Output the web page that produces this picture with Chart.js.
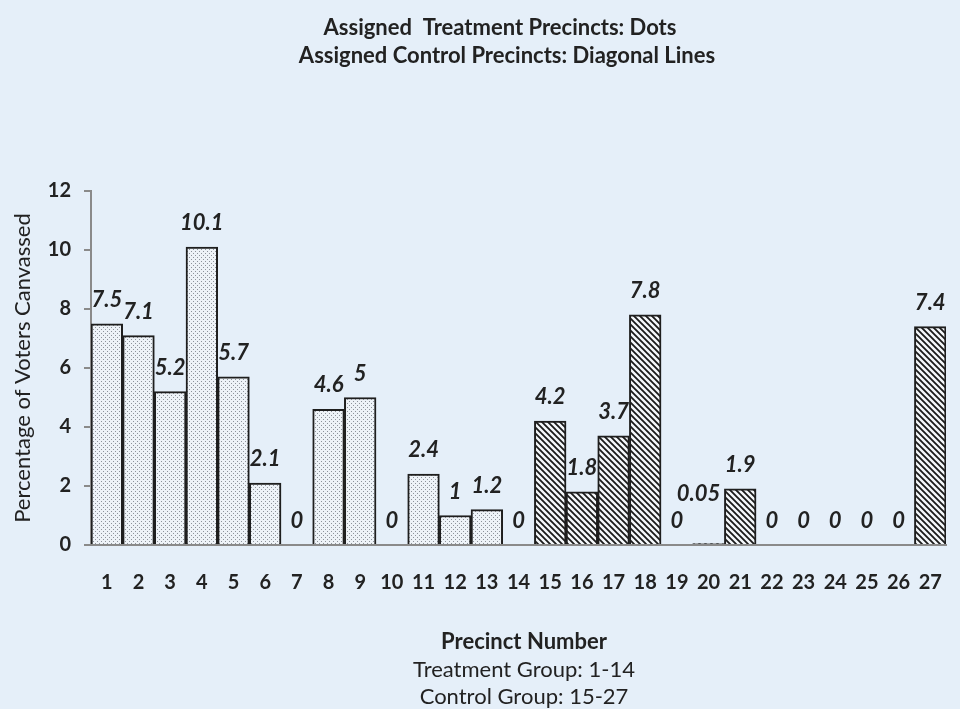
<!DOCTYPE html>
<html>
<head>
<meta charset="utf-8">
<script src="https://cdn.jsdelivr.net/npm/chart.js@4/dist/chart.umd.min.js"></script>
<style>
  html, body { margin: 0; padding: 0; background: #e5eff9; }
  #wrap { width: 960px; height: 709px; position: relative; }
</style>
</head>
<body>
<div id="wrap"><canvas id="chart" width="960" height="709"></canvas></div>
<script>
// Precinct numbers and share of voters canvassed (%)
const precincts = ['1','2','3','4','5','6','7','8','9','10','11','12','13','14',
                   '15','16','17','18','19','20','21','22','23','24','25','26','27'];
const canvassed = [7.5, 7.1, 5.2, 10.1, 5.7, 2.1, 0, 4.6, 5, 0, 2.4, 1, 1.2, 0,
                   4.2, 1.8, 3.7, 7.8, 0, 0.05, 1.9, 0, 0, 0, 0, 0, 7.4];
const treatmentCount = 14;           // precincts 1-14 are treatment, 15-27 control
const yTicks = [0, 2, 4, 6, 8, 10, 12];

const titleLines = ['Assigned  Treatment Precincts: Dots',
                    'Assigned Control Precincts: Diagonal Lines'];
const xTitle = 'Precinct Number';
const groupNotes = ['Treatment Group: 1-14', 'Control Group: 15-27'];

const FONT = 'Lato, "Open Sans", sans-serif';
const INK = '#222222';

// Fill patterns: fine dots for treatment, backslash hatching for control
function dotPattern() {
  const c = document.createElement('canvas');
  c.width = 4; c.height = 4;
  const g = c.getContext('2d');
  g.fillStyle = '#eef3f8';
  g.fillRect(0, 0, 4, 4);
  g.fillStyle = '#8d939b';
  g.fillRect(1, 1, 1, 1);
  g.fillRect(3, 3, 1, 1);
  return g.createPattern(c, 'repeat');
}
function hatchPattern() {
  const s = 6;
  const c = document.createElement('canvas');
  c.width = s; c.height = s;
  const g = c.getContext('2d');
  g.fillStyle = '#f4f7fa';
  g.fillRect(0, 0, s, s);
  g.strokeStyle = '#1a1a1a';
  g.lineWidth = 1.8;
  g.beginPath();
  g.moveTo(-2, -2); g.lineTo(s + 2, s + 2);
  g.moveTo(-2 - s, -2); g.lineTo(2, s + 2);
  g.moveTo(s - 2, -2); g.lineTo(2 * s + 2, s + 2);
  g.stroke();
  return g.createPattern(c, 'repeat');
}
const dots = dotPattern();
const hatch = hatchPattern();
const fills = canvassed.map((_, i) => i < treatmentCount ? dots : hatch);

// Italic value labels above every bar
const valueLabels = {
  id: 'valueLabels',
  afterDatasetsDraw(chart, args, opts) {
    const ctx = chart.ctx;
    const meta = chart.getDatasetMeta(0);
    ctx.save();
    ctx.font = 'italic bold 22px ' + FONT;
    ctx.fillStyle = INK;
    ctx.textAlign = 'center';
    ctx.textBaseline = 'middle';
    meta.data.forEach((bar, i) => {
      const v = canvassed[i];
      const lift = opts.gap + ((opts.extraLift || {})[i] || 0);
      const dx = (opts.shift || {})[i] || 0;
      ctx.fillText(String(v), bar.x + dx, bar.y - lift);
    });
    ctx.restore();
  }
};

// Heading above the plot and axis caption / group notes below it
const captions = {
  id: 'captions',
  afterDraw(chart) {
    const ctx = chart.ctx;
    ctx.save();
    ctx.fillStyle = INK;
    ctx.textAlign = 'center';
    ctx.textBaseline = 'middle';
    ctx.font = 'bold 22px ' + FONT;
    ctx.fillText(titleLines[0], 500, 28);
    ctx.fillText(titleLines[1], 507, 56);
    ctx.fillText(xTitle, 524, 642);
    ctx.font = '22px ' + FONT;
    ctx.fillText(groupNotes[0], 524, 670);
    ctx.fillText(groupNotes[1], 524, 697);
    ctx.restore();
  }
};

new Chart(document.getElementById('chart'), {
  type: 'bar',
  data: {
    labels: precincts,
    datasets: [{
      data: canvassed,
      backgroundColor: fills,
      borderColor: '#1e1e1e',
      borderWidth: 2,
      categoryPercentage: 1.0,
      barPercentage: 1.0
    }]
  },
  options: {
    responsive: false,
    animation: false,
    layout: { padding: { top: 191, right: 8, bottom: 54, left: 0 } },
    plugins: {
      legend: { display: false },
      tooltip: { enabled: false },
      title: { display: false },
      valueLabels: { gap: 24, extraLift: { 19: 26 }, shift: { 19: -10 } }
    },
    scales: {
      x: {
        grid: { display: false },
        border: { display: true, color: '#8a8a8a', width: 2 },
        ticks: { color: INK, font: { family: FONT, size: 20, weight: 'bold' }, padding: 18, maxRotation: 0, autoSkip: false },
        afterFit(scale) { scale.height = 110; }
      },
      y: {
        min: 0, max: 12,
        afterBuildTicks(scale) { scale.ticks = yTicks.map(v => ({ value: v })); },
        grid: { display: true, drawOnChartArea: false, drawTicks: true, tickLength: 7, color: '#8a8a8a', lineWidth: 2 },
        border: { display: true, color: '#8a8a8a', width: 2 },
        ticks: { color: INK, font: { family: FONT, size: 20, weight: 'bold' }, padding: 13 },
        title: {
          display: true,
          text: 'Percentage of Voters Canvassed',
          color: INK,
          font: { family: FONT, size: 22, weight: 'normal' },
          padding: { top: 10, bottom: 0 }
        },
        afterFit(scale) { scale.width = 91; }
      }
    }
  },
  plugins: [valueLabels, captions]
});
</script>
</body>
</html>
